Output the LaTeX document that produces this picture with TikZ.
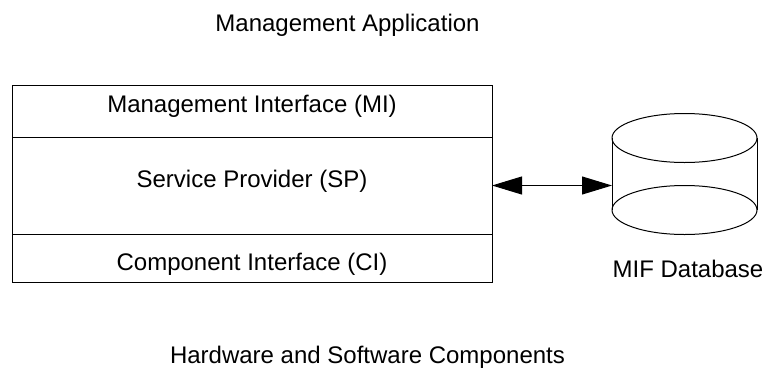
\documentclass[tikz,border=0pt]{standalone}
\usepackage{fontspec}
\setmainfont{Liberation Sans}
\usetikzlibrary{positioning, arrows.meta}

\begin{document}
\begin{tikzpicture}[
    x=0.5pt, y=-0.5pt, % one unit = one pixel of the layout
    line width=0.5pt,
    font=\fontsize{12}{14}\selectfont,
    % --- STYLES ---
    layer/.style={rectangle, draw, minimum width=240pt, inner sep=0pt, outer sep=0pt, align=center},
    caption/.style={inner sep=0pt},
    dbbody/.style={rectangle, minimum width=72.5pt, minimum height=36pt, inner sep=0pt, outer sep=0pt},
    link/.style={{Triangle[length=15pt, width=9pt]}-{Triangle[length=15pt, width=9pt]}}
]
\useasboundingbox (0,0) rectangle (771,370);

% --- 1. OUTSIDE WORLD ---
\node (app) [caption] at (347.5,25.5) {Management Application};
\node (hw) [caption] at (367.5,357.5) {Hardware and Software Components};

% --- 2. LAYERED STACK ---
\node (mi) [layer, minimum height=26pt, text depth=7pt] at (252,111) {Management Interface (MI)};
\node (sp) [layer, minimum height=48.5pt, text depth=7pt, below=0pt of mi] {Service Provider (SP)};
\node (ci) [layer, minimum height=24pt, text height=15pt, below=0pt of sp] {Component Interface (CI)};

% --- 3. DATABASE ---
\node (db) [dbbody] at (684.5,174) {};
\draw (db.north west) -- (db.south west);
\draw (db.north east) -- (db.south east);
\draw (db.north) ellipse [x radius=36.25pt, y radius=12.25pt];
\draw (db.south) ellipse [x radius=36.25pt, y radius=12.25pt];
\node (dbname) [caption] at (688,268.5) {MIF Database};

% --- FLOWS ---
\draw [link] (sp.east) -- (sp.east -| db.west);

\end{tikzpicture}
\end{document}
